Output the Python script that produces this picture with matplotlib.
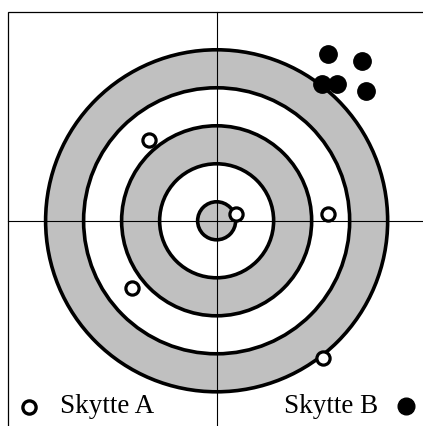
import matplotlib.pyplot as plt
from matplotlib.patches import Circle, Rectangle

# target rings (outer to inner) and their fill
ring_radii = [9, 7, 5, 3, 1]
ring_fill = ['#c0c0c0', 'white', '#c0c0c0', 'white', '#c0c0c0']

# shots, Skytte A (open) and Skytte B (filled)
a_x = [-3.55, 1.02, 5.84, -4.47, 5.61]
a_y = [4.25, 0.35, 0.35, -3.53, -7.24]
b_x = [5.84, 7.63, 5.53, 6.35, 7.84]
b_y = [8.76, 8.42, 7.18, 7.18, 6.84]

labels = ['Skytte A', 'Skytte B']

fig = plt.figure(figsize=(4.23, 4.26), dpi=100)
ax = fig.add_axes([0, 0, 1, 1])
ax.set_xlim(-11.4, 10.86)
ax.set_ylim(-10.8, 11.62)
ax.axis('off')

for r, c in zip(ring_radii, ring_fill):
    ax.add_patch(Circle((0, 0), r, facecolor=c, edgecolor='black', lw=2.6, zorder=1))

ax.add_patch(Rectangle((-11, -11), 22, 22, fill=False, edgecolor='black', lw=0.9, zorder=2))
ax.plot([-11, 11], [0, 0], color='black', lw=0.8, zorder=2)
ax.plot([0, 0], [-11, 11], color='black', lw=0.8, zorder=2)

ax.plot(a_x, a_y, 'o', ms=9.5, mfc='white', mec='black', mew=2.3, zorder=3)
ax.plot(b_x, b_y, 'o', ms=12.5, color='black', zorder=3)

# legend at the bottom
ax.plot([-9.86], [-9.82], 'o', ms=9.5, mfc='white', mec='black', mew=2.4, zorder=3)
ax.plot([9.96], [-9.75], 'o', ms=12, color='black', zorder=3)
ax.text(-8.25, -10.12, labels[0], family='Liberation Serif', fontsize=19.5, ha='left', va='baseline')
ax.text(8.5, -10.12, labels[1], family='Liberation Serif', fontsize=19.5, ha='right', va='baseline')

fig.savefig('out.png', dpi=100)
